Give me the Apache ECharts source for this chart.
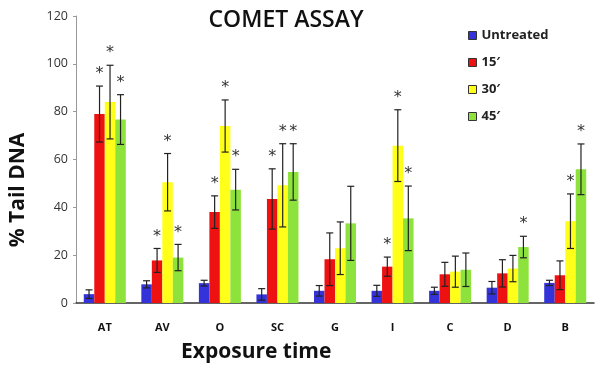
<!DOCTYPE html>
<html>
<head>
<meta charset="utf-8">
<script src="https://cdn.jsdelivr.net/npm/echarts@6/dist/echarts.min.js"></script>
<style>
  html, body { margin: 0; padding: 0; background: #fff; }
  #chart { width: 600px; height: 383px; }
</style>
</head>
<body>
<div id="chart"></div>
<script>
const categories = ["AT", "AV", "O", "SC", "G", "I", "C", "D", "B"];
const seriesNames = ["Untreated", "15\u2032", "30\u2032", "45\u2032"];

const untreated = [3.7, 7.8, 8.3, 3.6, 5.1, 5.1, 5.1, 6.4, 8.4];
const untreatedErr = [1.8, 1.5, 1.2, 2.4, 2.2, 2.3, 1.5, 2.6, 1.1];
const min15 = [79, 17.8, 38, 43.5, 18.3, 15.2, 12, 12.4, 11.6];
const min15Err = [11.7, 5, 6.8, 12.6, 11, 4, 5, 5.7, 6];
const min30 = [84, 50.5, 74, 49.2, 22.9, 65.8, 13.1, 14.4, 34.2];
const min30Err = [15.4, 12, 10.9, 17.4, 11, 15, 6.5, 5.5, 11.4];
const min45 = [76.7, 19, 47.4, 54.8, 33.3, 35.4, 13.9, 23.4, 55.9];
const min45Err = [10.4, 5.5, 8.5, 11.8, 15.5, 13.5, 7, 4.5, 10.6];

// significance marks
const untreatedStars = ["", "", "", "", "", "", "", "", ""];
const min15Stars = ["*", "*", "*", "*", "", "*", "", "", ""];
const min30Stars = ["*", "*", "*", "*", "", "*", "", "", "*"];
const min45Stars = ["*", "*", "*", "*", "", "*", "", "*", "*"];

const yTicks = [0, 20, 40, 60, 80, 100, 120];

const colors = ["#3333d9", "#ee1111", "#ffff1a", "#8ee23c"];
const values = [untreated, min15, min30, min45];
const errors = [untreatedErr, min15Err, min30Err, min45Err];
const stars = [untreatedStars, min15Stars, min30Stars, min45Stars];

const catGap = 0.27;

const myChart = echarts.init(document.getElementById("chart"));

const barSeries = seriesNames.map((name, k) => ({
  name: name,
  type: "bar",
  data: values[k],
  barGap: "0%",
  barCategoryGap: catGap * 100 + "%",
  itemStyle: { color: colors[k] },
}));

const errSeries = seriesNames.map((name, k) => ({
  name: name + " err",
  type: "custom",
  z: 5,
  data: categories.map((c, i) => [i, values[k][i] + errors[k][i], values[k][i] - errors[k][i]]),
  renderItem: (params, api) => {
    const i = api.value(0);
    const band = api.size([1, 0])[0];
    const bw = (band * (1 - catGap)) / 4;
    const dx = (k - 1.5) * bw;
    const top = api.coord([i, api.value(1)]);
    const bot = api.coord([i, api.value(2)]);
    const x = top[0] + dx;
    const cap = 3.5;
    const ls = { stroke: "#222", lineWidth: 1.2 };
    const children = [
      { type: "line", shape: { x1: x, y1: top[1], x2: x, y2: bot[1] }, style: ls },
      { type: "line", shape: { x1: x - cap, y1: top[1], x2: x + cap, y2: top[1] }, style: ls },
      { type: "line", shape: { x1: x - cap, y1: bot[1], x2: x + cap, y2: bot[1] }, style: ls },
    ];
    const s = stars[k][params.dataIndex];
    if (s) {
      children.push({
        type: "text",
        style: {
          text: s,
          x: x,
          y: top[1] - 12,
          align: "center",
          verticalAlign: "middle",
          fontSize: 16,
          fontFamily: "DejaVu Sans",
          fill: "#333",
        },
      });
    }
    return { type: "group", children: children };
  },
}));

const option = {
  animation: false,
  backgroundColor: "#fff",
  color: colors,
  title: {
    text: "COMET ASSAY",
    left: 281,
    textAlign: "center",
    top: 4,
    textStyle: { fontFamily: "Open Sans", fontSize: 23, fontWeight: 600, color: "#111" },
  },
  legend: {
    data: seriesNames,
    orient: "vertical",
    left: 463,
    top: 24,
    icon: "rect",
    itemWidth: 8,
    itemHeight: 8,
    itemGap: 14,
    itemStyle: { borderColor: "#333", borderWidth: 1 },
    textStyle: { fontFamily: "Open Sans", fontSize: 13, fontWeight: "bold", color: "#222" },
  },
  grid: { left: 76, right: 6, top: 16, bottom: 80 },
  xAxis: {
    type: "category",
    data: categories,
    axisLine: { lineStyle: { color: "#333", width: 1.5 } },
    axisTick: { show: false },
    axisLabel: { color: "#111", fontSize: 11, fontWeight: "bold", fontFamily: "Open Sans", margin: 19 },
  },
  yAxis: {
    type: "value",
    min: yTicks[0],
    max: yTicks[yTicks.length - 1],
    interval: yTicks[1] - yTicks[0],
    axisLine: { show: true, lineStyle: { color: "#999" } },
    axisTick: { show: true, length: 3, lineStyle: { color: "#999" } },
    splitLine: { show: false },
    axisLabel: { color: "#333", fontSize: 12.5, fontFamily: "Open Sans", margin: 8 },
  },
  graphic: [
    {
      type: "text",
      left: 181,
      top: 342,
      style: { text: "Exposure time", fontFamily: "Open Sans", fontSize: 21, fontWeight: "bold", fill: "#111" },
    },
    {
      type: "text",
      x: 18,
      y: 190,
      rotation: Math.PI / 2,
      style: {
        text: "% Tail DNA",
        fontFamily: "Open Sans",
        fontSize: 21,
        fontWeight: "bold",
        fill: "#111",
        align: "center",
        verticalAlign: "middle",
      },
    },
  ],
  series: [...barSeries, ...errSeries],
};

myChart.setOption(option);
</script>
</body>
</html>
